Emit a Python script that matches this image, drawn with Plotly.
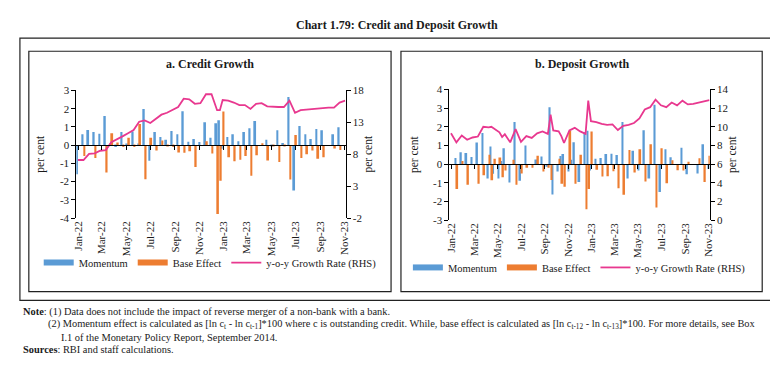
import plotly.graph_objects as go

W, H = 778, 367
def fx(px): return px / W
def fy(py): return 1 - py / H

# ---------------- data ----------------
credit_dates = ["2021-12-31","2022-01-14","2022-01-28","2022-02-11","2022-02-25","2022-03-11","2022-03-25",
                "2022-04-08","2022-04-22","2022-05-06","2022-05-20","2022-06-03","2022-06-17","2022-07-01",
                "2022-07-15","2022-07-29","2022-08-12","2022-08-26","2022-09-09","2022-09-23","2022-10-07",
                "2022-10-21","2022-11-04","2022-11-18","2022-12-02","2022-12-16","2022-12-23","2022-12-30",
                "2023-01-13","2023-01-27","2023-02-10","2023-02-24","2023-03-10","2023-03-24","2023-04-07",
                "2023-04-21","2023-05-05","2023-05-19","2023-06-02","2023-06-16","2023-06-30","2023-07-14",
                "2023-07-28","2023-08-11","2023-08-25","2023-09-08","2023-09-22","2023-10-06","2023-10-20",
                "2023-11-03"]
credit_momentum = [-1.6, 0.6, 0.83, 0.72, 0.62, 1.6, 0.05, -0.1, 0.72, 0.05, 0.75, 0.05, 1.98, -0.85,
                   0.72, 0.45, 0.3, 0.78, 0.6, 1.86, 0.18, 0.34, 0.17, 1.25, 0.4, 1.2, 1.36, -0.2,
                   0.45, 0.6, 0.22, 0.72, 0.93, 1.32, 0.0, 0.29, -0.05, 0.82, 0.12, 2.64, -2.48, 1.05,
                   0.6, 0.34, 0.89, 0.82, 0.0, 0.6, 0.98, None]
credit_base = [0, -0.6, 0, -0.7, 0, -1.5, 0.65, 0.15, -0.1, 0.4, -0.1, 1.16, -1.87, 0.4,
               -0.3, 0.25, -0.05, -0.1, -0.4, -0.42, -0.34, -1.2, 0.0, 0.22, -0.46, -3.77, -1.95, 1.84,
               -0.66, -0.88, -0.8, -0.6, -1.68, -0.55, 0.1, -0.84, -0.05, -0.93, -0.05, -1.89, 0.55, -0.71,
               -0.5, -0.3, -0.75, -0.66, 0.0, -0.18, -0.27, None]
credit_yoy = [7.1, 7.1, 8.05, 8.15, 8.55, 8.65, 9.9, 10.3, 10.8, 11.3, 11.8, 13.1, 13.3, 12.9,
              13.5, 14.2, 14.5, 15.0, 15.4, 16.7, 16.6, 15.9, 16.0, 17.4, 17.4, 14.9, 14.9, 16.5,
              16.4, 16.1, 15.7, 15.7, 15.1, 15.9, 16.0, 15.5, 15.4, 15.4, 15.4, 16.4, 14.5, 14.9,
              15.0, 15.1, 15.2, 15.3, 15.3, 15.3, 16.1, 16.4]

deposit_dates = ["2021-12-31","2022-01-14","2022-01-28","2022-02-11","2022-02-25","2022-03-11","2022-03-25",
                 "2022-04-08","2022-04-15","2022-04-22","2022-05-06","2022-05-13","2022-05-20","2022-06-03",
                 "2022-06-10","2022-06-17","2022-07-01","2022-07-15","2022-07-29","2022-08-12","2022-08-26",
                 "2022-09-09","2022-09-16","2022-09-23","2022-10-07","2022-10-14","2022-10-21","2022-11-04",
                 "2022-11-11","2022-11-18","2022-12-02","2022-12-16","2022-12-23","2022-12-30","2023-01-13",
                 "2023-01-27","2023-02-10","2023-02-24","2023-03-10","2023-03-24","2023-04-07","2023-04-21",
                 "2023-05-05","2023-05-19","2023-06-02","2023-06-16","2023-06-30","2023-07-14","2023-07-28",
                 "2023-08-11","2023-08-25","2023-09-08","2023-09-22","2023-10-06","2023-10-20","2023-11-03"]
deposit_momentum = [None, 0.33, 0.64, 0.59, 0.38, 1.15, 1.67, -0.77, 0.94, -0.52, -0.77, 0.17, 0.85, -0.99,
                    0, 2.26, -0.9, 0.99, 0, 0.25, 0.4, -0.15, 3.05, -1.63, -0.4, 0.43, 0.54, -0.4,
                    0.23, 1.17, -0.96, 1.7, 1.79, -0.35, 0.28, 0.32, 0.54, 0.55, 0.49, 2.26, -0.77, 0.71,
                    -0.35, 1.81, -0.77, 3.18, -1.5, 0.8, 0.37, 0, 0.87, -0.54, 0, -0.5, 1.06, -0.26]
deposit_base = [None, -1.34, 0.16, -1.11, 0, -1.06, -0.6, 0.5, -0.87, 0.28, 0.35, -0.7, -0.35, 0,
                0.23, -1.11, -0.5, -0.2, -0.2, 0.45, -0.4, -0.2, -0.85, 0, 0.28, -1.06, -1.22, 1.77,
                0, -1.06, 0.5, -2.42, -1.34, 1.74, -0.3, -0.66, -0.65, -0.38, -1.29, -1.64, 0.75, -0.45,
                0.8, -0.94, 1.06, -2.33, 0.85, -1.03, 0.2, -0.33, -0.35, 0.12, 0, 0.31, -0.96, 0.45]
deposit_yoy = [9.3, 8.33, 9.06, 8.6, 8.85, 8.95, 10.0, 9.93, 10.0, 9.8, 9.4, 8.9, 9.2, 8.33,
               9.0, 9.75, 8.37, 9.0, 8.8, 9.3, 9.5, 9.23, 11.3, 9.6, 9.5, 9.0, 8.26, 9.6,
               9.75, 9.9, 9.5, 9.23, 12.8, 10.6, 10.5, 10.3, 10.2, 10.25, 9.65, 10.1, 10.2, 10.4,
               10.9, 11.85, 12.1, 12.9, 12.3, 12.1, 12.6, 12.3, 12.8, 12.4, 12.45, 12.6, 12.75, 12.85]

series_names = ["Momentum", "Base Effect", "y-o-y Growth Rate (RHS)"]
credit_left_ticks = [-4, -3, -2, -1, 0, 1, 2, 3]
credit_right_ticks = [-2, 3, 8, 13, 18]
deposit_left_ticks = [-3, -2, -1, 0, 1, 2, 3, 4]
deposit_right_ticks = [0, 2, 4, 6, 8, 10, 12, 14]
x_range = ["2021-12-27", "2023-11-04"]

# ---------------- style ----------------
BLUE = "#5B9BD5"
ORANGE = "#ED7D31"
PINK = "#E8388F"
FONT = "Liberation Serif"
TXT = "#1a1a1a"
DAY_MS = 86400000
BAR_W = 4.5 * DAY_MS

fig = go.Figure()

def add_panel(dates, mom, base, yoy, xa, ya, ya2, xov, legend):
    fig.add_trace(go.Bar(x=dates, y=mom, xaxis=xa, yaxis=ya, marker=dict(color=BLUE, line=dict(width=0)),
                         width=BAR_W, offset=-BAR_W, name=series_names[0], showlegend=False))
    fig.add_trace(go.Bar(x=dates, y=base, xaxis=xa, yaxis=ya, marker=dict(color=ORANGE, line=dict(width=0)),
                         width=BAR_W, offset=0, name=series_names[1], showlegend=False))
    for nm, col, rk in [(series_names[0], BLUE, 1), (series_names[1], ORANGE, 2)]:
        fig.add_trace(go.Scatter(x=[None], y=[None], xaxis=xa, yaxis=ya, mode="lines",
                                 line=dict(color=col, width=6), name=nm, legend=legend, legendrank=rk,
                                 hoverinfo="skip"))
    fig.add_trace(go.Scatter(x=dates, y=yoy, xaxis=xa, yaxis=ya2, mode="lines",
                             line=dict(color=PINK, width=1.8), name=series_names[2], legend=legend,
                             legendrank=3))
    fig.add_trace(go.Scatter(x=[dates[0]], y=[None], xaxis=xov, yaxis=ya, showlegend=False,
                             hoverinfo="skip", mode="lines"))

add_panel(credit_dates, credit_momentum, credit_base, credit_yoy, "x", "y", "y2", "x3", "legend")
add_panel(deposit_dates, deposit_momentum, deposit_base, deposit_yoy, "x2", "y3", "y4", "x4", "legend2")

tickfont = dict(family=FONT, size=11, color=TXT)
titlefont = dict(family=FONT, size=11.5, color=TXT)

def xaxis(dom, anchor):
    return dict(domain=dom, anchor=anchor, type="date", range=x_range, tick0="2022-01-01", dtick="M2",
                tickformat="%b-%y", tickangle=-90, ticks="", showline=False, showgrid=False,
                zeroline=False, tickfont=tickfont)

def zero_axis(over, dom_y, ticks):
    lo, hi = ticks[0], ticks[-1]
    pos = dom_y[0] + (0 - lo) / (hi - lo) * (dom_y[1] - dom_y[0])
    return dict(overlaying=over, anchor="free", position=pos, type="date", range=x_range,
                tick0="2022-01-01", dtick="M2", showticklabels=False, ticks="outside", ticklen=4,
                tickcolor="black", showline=True, linecolor="black", linewidth=1, showgrid=False,
                zeroline=False)

def yaxis(dom, anchor, ticks, side="left", overlay=None, standoff=12):
    d = dict(domain=dom, anchor=anchor, range=[ticks[0], ticks[-1]], tickmode="array",
             tickvals=ticks, ticktext=[str(t) for t in ticks], side=side,
             showline=True, linecolor="black", linewidth=1, ticks="outside", ticklen=4,
             tickcolor="black", showgrid=False, zeroline=False, tickfont=tickfont,
             title=dict(text="per cent", font=titlefont, standoff=standoff))
    if overlay:
        d["overlaying"] = overlay
        d.pop("domain")
    return d

a_x, a_y = [fx(65), fx(337)], [fy(211), fy(79)]
b_x, b_y = [fx(442), fx(705)], [fy(213), fy(78)]

legend_common = dict(orientation="h", xanchor="left", yanchor="middle", bgcolor="rgba(0,0,0,0)",
                     font=dict(family=FONT, size=10.5, color=TXT), itemwidth=30, traceorder="normal")

fig.update_layout(
    width=W, height=H, autosize=False, margin=dict(l=0, r=0, t=0, b=0),
    paper_bgcolor="white", plot_bgcolor="rgba(0,0,0,0)", barmode="overlay",
    font=dict(family=FONT, color=TXT),
    xaxis=xaxis(a_x, "y"),
    xaxis2=xaxis(b_x, "y3"),
    xaxis3=zero_axis("x", a_y, credit_left_ticks),
    xaxis4=zero_axis("x2", b_y, deposit_left_ticks),
    yaxis=yaxis(a_y, "x", credit_left_ticks),
    yaxis2=yaxis(a_y, "x", credit_right_ticks, side="right", overlay="y", standoff=0),
    yaxis3=yaxis(b_y, "x2", deposit_left_ticks),
    yaxis4=yaxis(b_y, "x2", deposit_right_ticks, side="right", overlay="y3", standoff=0),
    legend=dict(legend_common, x=fx(27), y=fy(257)),
    legend2=dict(legend_common, x=fx(400), y=fy(262)),
    showlegend=True,
)

box = dict(type="rect", xref="paper", yref="paper", line=dict(color="#222", width=1.2),
           fillcolor="rgba(0,0,0,0)", layer="below")
fig.add_shape(box, x0=fx(8), x1=fx(769), y0=fy(296), y1=fy(25))
fig.add_shape(box, x0=fx(17), x1=fx(383), y0=fy(287), y1=fy(38.5))
fig.add_shape(box, x0=fx(393), x1=fx(758), y0=fy(287), y1=fy(38.5))

def note(text, x, y, size=10.4, anchor="left"):
    fig.add_annotation(text=text, x=x, y=y, xref="paper", yref="paper", xanchor=anchor,
                       yanchor="middle", showarrow=False, font=dict(family=FONT, size=size, color=TXT))

note("<b>Chart 1.79: Credit and Deposit Growth</b>", 0.5, fy(11), size=12, anchor="center")
note("<b>a. Credit Growth</b>", fx(200), fy(52), size=12, anchor="center")
note("<b>b. Deposit Growth</b>", fx(576), fy(52), size=12, anchor="center")
note("<b>Note</b>: (1) Data does not include the impact of reverse merger of a non-bank with a bank.",
     fx(9), fy(308))
note("(2) Momentum effect is calculated as [ln c<sub>t</sub> - ln c<sub>t-1</sub>]*100 where c is outstanding "
     "credit. While, base effect is calculated as [ln c<sub>t-12</sub> - ln c<sub>t-13</sub>]*100. "
     "For more details, see Box", fx(34), fy(321))
note("I.1 of the Monetary Policy Report, September 2014.", fx(47), fy(334))
note("<b>Sources</b>: RBI and staff calculations.", fx(9), fy(347))

fig.write_html("out.html")
